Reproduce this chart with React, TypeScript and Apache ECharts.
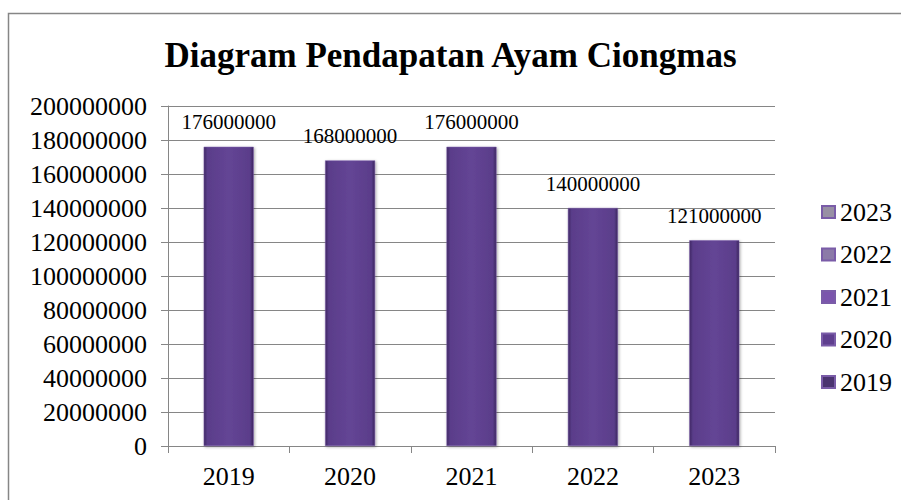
import React, { useEffect, useRef } from "react";
import * as echarts from "echarts";

const categories = ["2019", "2020", "2021", "2022", "2023"];
const revenue = [176000000, 168000000, 176000000, 140000000, 121000000];
const yTicks = [0, 20000000, 40000000, 60000000, 80000000, 100000000, 120000000, 140000000, 160000000, 180000000, 200000000];
const legendColors = ["#4b3470", "#5f3f8f", "#7b55ad", "#8c7aa8", "#9890a4"];

const FONT = "Liberation Serif";

export default function App() {
  const ref = useRef<HTMLDivElement>(null);
  useEffect(() => {
    if (!ref.current) return;
    const chart = echarts.init(ref.current, null, { renderer: "svg" });
    const barColor = new echarts.graphic.LinearGradient(0, 0, 1, 0, [
      { offset: 0, color: "#3f2863" },
      { offset: 0.07, color: "#5a3d8a" },
      { offset: 0.5, color: "#644595" },
      { offset: 0.93, color: "#5a3d8a" },
      { offset: 1, color: "#3b255d" },
    ]);
    const series = categories.map((c, i) => ({
      name: c,
      type: "bar",
      stack: "total",
      barWidth: 50,
      data: revenue.map((v, j) => (j === i ? v : "-")),
      itemStyle: {
        color: barColor,
        borderColor: "#7a5ca8",
        borderWidth: 0.5,
        shadowColor: "rgba(0,0,0,0.35)",
        shadowBlur: 3,
        shadowOffsetX: 1,
        shadowOffsetY: 1,
      },
      label: {
        show: true,
        position: "top",
        distance: 14,
        color: "#000",
        fontFamily: FONT,
        fontSize: 21,
        formatter: (p: any) => String(p.value),
      },
    }));
    chart.setOption({
      animation: false,
      backgroundColor: "#fff",
      textStyle: { fontFamily: FONT },
      title: {
        text: "Diagram Pendapatan Ayam Ciongmas",
        left: "center",
        top: 33,
        textStyle: { fontFamily: FONT, fontWeight: "bold", fontSize: 35, color: "#000" },
      },
      graphic: [
        {
          type: "rect",
          shape: { x: 8.5, y: 13.5, width: 900, height: 500 },
          style: { fill: "none", stroke: "#868686", lineWidth: 1.5 },
          silent: true,
          z: -1,
        },
      ],
      legend: {
        orient: "vertical",
        left: 816,
        top: 194,
        itemWidth: 13,
        itemHeight: 12,
        itemGap: 16.5,
        icon: "rect",
        textStyle: { fontFamily: FONT, fontSize: 26, color: "#000" },
        data: categories
          .map((c, i) => ({ name: c, itemStyle: { color: legendColors[i] } }))
          .reverse(),
      },
      grid: { left: 168, right: 126, top: 106, bottom: 54 },
      xAxis: {
        type: "category",
        data: categories,
        axisLine: { lineStyle: { color: "#868686", width: 1 } },
        axisTick: { show: true, length: 7, lineStyle: { color: "#868686" } },
        axisLabel: { fontFamily: FONT, fontSize: 26, color: "#000", margin: 17 },
      },
      yAxis: {
        type: "value",
        min: yTicks[0],
        max: yTicks[yTicks.length - 1],
        interval: yTicks[1] - yTicks[0],
        axisLine: { show: true, lineStyle: { color: "#868686", width: 1 } },
        axisTick: { show: true, length: 7, lineStyle: { color: "#868686" } },
        splitLine: { show: true, lineStyle: { color: "#868686", width: 1 } },
        axisLabel: {
          fontFamily: FONT,
          fontSize: 26,
          color: "#000",
          margin: 21,
          formatter: (v: number) => String(v),
        },
      },
      series,
    });
    return () => chart.dispose();
  }, []);
  return (
    <div
      ref={ref}
      style={{ position: "absolute", left: 0, top: 0, width: 901, height: 500 }}
    />
  );
}
